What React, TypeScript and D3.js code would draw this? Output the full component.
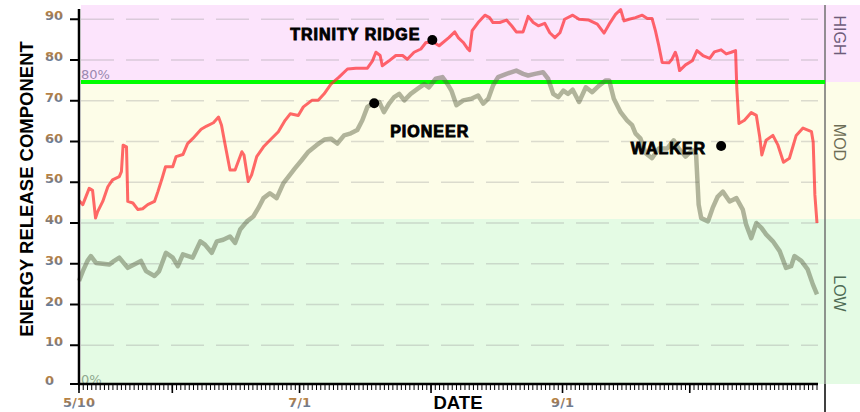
import * as d3 from "d3";

const DAY = 86400000;
const START = Date.UTC(2012, 4, 10);
const END = Date.UTC(2012, 9, 31);

// [days after 5/10, ERC]
const trinityRidge: [number, number][] = [
  [0, 45.5], [0.9, 44.5], [2.4, 48.5], [3.2, 48], [3.9, 41.2], [4.4, 42.8], [5.6, 45.3], [6.8, 48.9],
  [7.9, 50.6], [9.5, 51.4], [10, 52.6], [10.4, 59.1], [11.2, 58.7], [11.5, 45.3], [12.7, 44.9], [13.9, 43.3],
  [15, 43.5], [16.2, 44.5], [17.8, 45.3], [18.6, 47.7], [19.6, 51], [20.4, 53.8], [22.1, 53.8], [22.9, 56.3],
  [24.5, 56.8], [25.6, 59.5], [26.8, 60.7], [28.8, 63], [30.1, 63.8], [31.7, 64.6], [32.9, 66], [33.6, 64],
  [34.4, 59.5], [35.6, 53], [36.8, 53], [38.4, 57.5], [38.9, 56.7], [39.9, 50.2], [40.7, 51.8], [41.9, 56.3],
  [43.5, 58.7], [45, 60.3], [47, 62.4], [48.6, 65.2], [49.8, 66.8], [51.7, 66.4], [52.9, 68.5], [54.9, 70.1],
  [56.4, 70.1], [57.8, 71.7], [59.4, 74.1], [61.3, 75.8], [63.3, 77.8], [65.3, 78], [68, 78], [69.2, 79.8],
  [70, 81.9], [71, 81.1], [71.5, 78.6], [73.1, 79.8], [74.7, 81.1], [76.3, 81.1], [77.4, 80.2], [79, 81.9],
  [80.6, 82.7], [81.8, 84.3], [83.7, 84.3], [84.9, 83.5], [87.2, 85.5], [88.6, 86.9], [89.4, 85.5], [90.6, 84.3],
  [91.7, 82.7], [92.1, 82.3], [92.7, 87.2], [94.1, 89.2], [95.7, 91], [96.8, 90.4], [97.6, 89.2], [99.2, 89.2],
  [100.8, 89.8], [102, 88.4], [103.1, 86.9], [104.7, 86.9], [105.9, 90.7], [107.1, 89.2], [108.3, 88.4], [109.8, 89],
  [111, 86.7], [112.2, 85.5], [113.4, 86.7], [114.5, 90], [116.4, 91], [117.9, 90], [120.2, 89.8], [122.2, 88.8],
  [123.8, 86.6], [125, 88.8], [126.5, 91.2], [127.7, 92.4], [128.5, 89.6], [129.7, 90], [131.2, 90.4], [132.8, 91],
  [134, 90.2], [135.1, 90.2], [135.9, 87.2], [136.7, 83.5], [137.5, 79.4], [139.1, 79.3], [139.8, 80.2], [140.6, 81.9],
  [141, 80.7], [141.6, 77.4], [143, 78.8], [144.6, 79.8], [145.7, 82.3], [147.1, 81.1], [148.7, 80.4], [149.8, 82],
  [151.4, 82.5], [152.6, 81.5], [153.8, 81.9], [154.8, 82.3], [155.1, 72.9], [155.6, 64.4], [156.9, 65.2], [158.5, 67.1],
  [159.7, 66.4], [160.5, 61.1], [161, 56.7], [162, 60.3], [163.6, 61.5], [164.8, 59.1], [166.1, 54.9], [167.5, 55.9],
  [169.1, 61.5], [170.7, 63.3], [172.7, 62.4], [173.1, 59.9], [173.5, 46.9], [174, 40],
];

const pioneer: [number, number][] = [
  [0, 25.8], [0.9, 28.2], [2, 30.7], [2.8, 31.9], [4, 30.2], [5.6, 30], [7.1, 29.8], [8.3, 30.7],
  [9.5, 31.5], [11.5, 29], [13, 29.8], [14.6, 30.7], [15.8, 28.2], [17.8, 27], [18.9, 28.2], [20.5, 32.7],
  [22.1, 31.5], [23.3, 29.4], [24.5, 32.3], [26.8, 31.5], [28.6, 35.5], [29.7, 34.7], [31.3, 32.7], [32.5, 35.5],
  [34, 35.9], [35.6, 36.7], [36.8, 35.1], [38, 38.4], [39.6, 40.4], [41.1, 41.6], [42.3, 43.7], [43.5, 46.1],
  [45, 47.3], [46.6, 46.1], [48.2, 49.8], [49.4, 51.4], [50.9, 53.4], [52.5, 55.4], [54.1, 57.5], [56, 59.1],
  [57.9, 60.5], [59.4, 60.7], [60.9, 59.5], [62.5, 61.5], [64.1, 62], [65.6, 62.8], [66.8, 65.2], [68, 68.5],
  [69.2, 69.3], [70.8, 69.7], [71.9, 67.2], [73.1, 69.3], [74.3, 70.9], [75.5, 71.7], [76.7, 70.1], [78.2, 71.7],
  [79.8, 72.9], [81.4, 74.1], [82.5, 73.3], [84.1, 75.4], [85.7, 75.8], [86.9, 74.1], [87.8, 72.5], [89, 68.9],
  [90.6, 70.1], [92.5, 70.5], [94.1, 71.3], [95.3, 69.3], [96.5, 70.5], [97.6, 73.7], [98.8, 75.8], [100.8, 76.6],
  [103.1, 77.4], [104.7, 76.6], [105.9, 76.2], [107.5, 76.6], [109.4, 77], [110.6, 75.4], [111.8, 71.7], [113, 70.9],
  [114.2, 72.5], [115.3, 71.7], [116.4, 72.7], [117.9, 69.7], [119.5, 73.3], [121, 72.1], [122.6, 73.7], [124.2, 75],
  [125, 75], [126.1, 70.5], [127.7, 67.2], [129.2, 65.2], [130.4, 64], [131.2, 62], [132.4, 60.7], [133.6, 57.1],
  [135.1, 55.9], [136.7, 58.3], [138.7, 58.3], [140.2, 60.3], [141.4, 58.3], [143, 56.3], [144.6, 57.9], [145.5, 56.7],
  [146.1, 44.5], [146.7, 41.2], [148.3, 40.4], [149.4, 43.7], [150.6, 46.5], [151.8, 47.7], [153.4, 45.3], [155, 46.1],
  [156.5, 43.3], [157.3, 39.6], [158.5, 36.3], [159.7, 40], [160.9, 38.8], [162, 37.2], [163.6, 35.5], [165.2, 33.1],
  [166.7, 29], [167.9, 29.4], [168.7, 31.9], [170.3, 30.7], [171.8, 28.6], [173, 25], [174, 22.5],
];

const yTicks = [0, 10, 20, 30, 40, 50, 60, 70, 80, 90];
const gridValues = [10, 20, 30, 40, 50, 60, 70, 80, 90];
const xLabelDates = ["2012-05-10", "2012-07-01", "2012-09-01"];
const xLabels = ["5/10", "7/1", "9/1"];

// zones: [from, to, label]
const zoneNames = ["LOW", "MOD", "HIGH"];
const zoneBreaks = [0, 41, 74.6, 93.5];
const threshold80 = 74.6;

// station markers: label, day, value
const stationNames = ["TRINITY RIDGE", "PIONEER", "WALKER"];
const stationDays = [83.3, 69.6, 151.4];
const stationValues = [84.9, 69.4, 58.9];

const toDate = (d: number) => new Date(START + d * DAY);

export default function App() {
  const W = 860;
  const H = 412;
  const x = d3.scaleUtc().domain([new Date(START), new Date(END)]).range([79, 817]);
  const y = d3.scaleLinear().domain([0, 93.5]).range([386, 5]);
  const plotBottom = 384;

  const line = d3
    .line<[number, number]>()
    .x((d) => x(toDate(d[0])))
    .y((d) => y(d[1]));

  const zoneFill = ["#e4fbe4", "#fdfde8", "#fce4fc"];
  const zoneText = ["#4f6b55", "#6d6d56", "#6e5c7a"];

  const minorTicks = d3.utcDay.range(new Date(START), new Date(END + DAY));
  const majorTicks = [new Date(START), ...d3.utcMonth.range(new Date(START), new Date(END + DAY))];

  // label offsets for station names
  const labelPos = [
    { dx: -12, dy: 0, anchor: "end" },
    { dx: 16, dy: 34, anchor: "start" },
    { dx: -15, dy: 8, anchor: "end" },
  ];

  return (
    <svg
      width={W}
      height={H}
      style={{ position: "absolute", left: 0, top: 0, display: "block", background: "#fff" }}
      fontFamily="'Liberation Sans', Arial, sans-serif"
    >
      <defs>
        <linearGradient id="tickGrad" x1="0" y1="0" x2="0" y2="1">
          <stop offset="0" stopColor="#d48a2c" />
          <stop offset="0.5" stopColor="#9a7a5c" />
          <stop offset="1" stopColor="#3f7fcc" />
        </linearGradient>
      </defs>

      {/* zone bands */}
      {zoneNames.map((z, i) => {
        const top = y(zoneBreaks[i + 1]);
        const bot = i === 0 ? plotBottom : y(zoneBreaks[i]);
        return (
          <g key={z}>
            <rect x={81} y={top} width={W - 81} height={bot - top} fill={zoneFill[i]} />
            <text
              transform={`translate(834,${(top + bot) / 2 - 8}) rotate(90)`}
              textAnchor="middle"
              fontSize={16}
              fill={zoneText[i]}
            >
              {z}
            </text>
          </g>
        );
      })}

      {/* dashed grid */}
      {gridValues.map((v) => (
        <line
          key={v}
          x1={81}
          x2={818}
          y1={y(v)}
          y2={y(v)}
          stroke="#9a9a9a"
          strokeOpacity={0.35}
          strokeWidth={1.6}
          strokeDasharray="33 12"
        />
      ))}

      {/* right separator */}
      <line x1={825} x2={825} y1={5} y2={plotBottom} stroke="#707070" strokeWidth={1.5} />
      <line x1={825} x2={825} y1={plotBottom} y2={H} stroke="#000" strokeWidth={1.5} />

      {/* 80% line */}
      <line x1={81} x2={825} y1={y(threshold80)} y2={y(threshold80)} stroke="#00ff00" strokeWidth={4} />
      <text x={81} y={y(threshold80) - 3} fontFamily="'DejaVu Sans', sans-serif" fontSize={13} fill="#9a88b0">
        80%
      </text>
      <text x={81} y={plotBottom} fontFamily="'DejaVu Sans', sans-serif" fontSize={13} fill="#8fa88f">
        0%
      </text>

      {/* series */}
      <path d={line(pioneer) ?? ""} fill="none" stroke="rgb(85,90,60)" strokeOpacity={0.45} strokeWidth={4.5} strokeLinejoin="round" />
      <path d={line(trinityRidge) ?? ""} fill="none" stroke="rgb(255,40,45)" strokeOpacity={0.7} strokeWidth={3} strokeLinejoin="round" />

      {/* station markers */}
      {stationNames.map((name, i) => {
        const cx = x(toDate(stationDays[i]));
        const cy = y(stationValues[i]);
        const p = labelPos[i];
        return (
          <g key={name}>
            <circle cx={cx} cy={cy} r={5} fill="#000" />
            <text
              x={cx + p.dx}
              y={cy + p.dy}
              textAnchor={p.anchor}
              fontSize={16}
              fontWeight="bold"
              letterSpacing={1}
              stroke="#000"
              strokeWidth={0.9}
              fill="#000"
            >
              {name}
            </text>
          </g>
        );
      })}

      {/* y axis */}
      <line x1={79} x2={79} y1={9} y2={plotBottom + 1} stroke="#000" strokeWidth={2.5} />
      {yTicks.map((v) => (
        <g key={v}>
          <line x1={70} x2={79} y1={Math.min(y(v), plotBottom)} y2={Math.min(y(v), plotBottom)} stroke="#000" strokeWidth={2} />
          <text
            x={45}
            y={Math.min(y(v), plotBottom) + 1}
            fontFamily="'DejaVu Sans', sans-serif"
            fontWeight="bold"
            fontSize={13}
            fill="url(#tickGrad)"
          >
            {v}
          </text>
        </g>
      ))}

      {/* x axis */}
      <line x1={78} x2={818} y1={plotBottom} y2={plotBottom} stroke="#000" strokeWidth={2.5} />
      {minorTicks.map((d) => (
        <line key={+d} x1={x(d)} x2={x(d)} y1={plotBottom} y2={plotBottom + 6} stroke="#000" strokeWidth={1} />
      ))}
      {majorTicks.map((d) => (
        <line key={"m" + +d} x1={x(d)} x2={x(d)} y1={plotBottom} y2={plotBottom + 9} stroke="#000" strokeWidth={1.6} />
      ))}
      {xLabels.map((lab, i) => (
        <text
          key={lab}
          x={x(new Date(xLabelDates[i] + "T00:00:00Z"))}
          y={407}
          textAnchor="middle"
          fontFamily="'DejaVu Sans', sans-serif"
          fontWeight="bold"
          fontSize={13}
          fill="url(#tickGrad)"
        >
          {lab}
        </text>
      ))}

      {/* axis titles */}
      <text x={458} y={409} textAnchor="middle" fontSize={18.5} fontWeight="bold" fill="#000">
        DATE
      </text>
      <text transform="translate(33,189) rotate(-90)" textAnchor="middle" fontSize={18.5} fontWeight="bold" fill="#000">
        ENERGY RELEASE COMPONENT
      </text>
    </svg>
  );
}
